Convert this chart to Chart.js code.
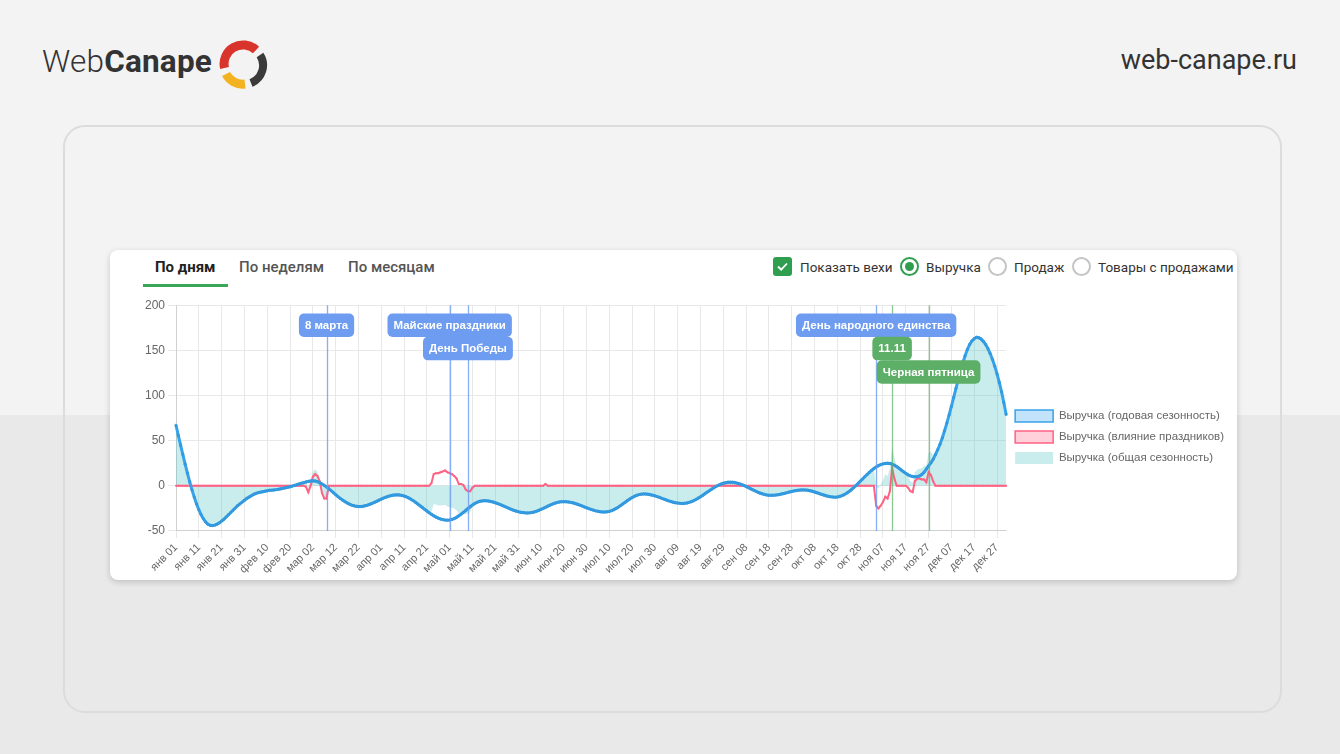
<!DOCTYPE html>
<html lang="ru">
<head>
<meta charset="utf-8">
<title>Сезонность выручки</title>
<script src="https://cdn.jsdelivr.net/npm/chart.js@4.4.1/dist/chart.umd.min.js"></script>
<style>
  html, body { margin: 0; padding: 0; }
  body {
    width: 1340px; height: 754px; overflow: hidden; position: relative;
    font-family: Roboto, "Noto Sans", Arial, sans-serif;
    background: linear-gradient(#f3f3f3 0, #f3f3f3 415px, #e9e9e9 415px, #e9e9e9 100%);
  }
  .brand { position: absolute; left: 42px; top: 42px; font-size: 31.5px; color: #333; line-height: 40px; letter-spacing: 0.2px; }
  .brand .light { font-weight: 300; }
  .brand .bold { font-weight: 700; }
  .logo-icon { position: absolute; left: 218px; top: 40px; }
  .site { position: absolute; right: 43px; top: 43px; font-size: 27px; color: #333; line-height: 34px; }
  .card { position: absolute; left: 63px; top: 125px; width: 1215px; height: 584px; border: 2px solid #dcdcdc; border-radius: 22px; }
  .panel { position: absolute; left: 110px; top: 250px; width: 1127px; height: 330px; background: #fff; border-radius: 8px; box-shadow: 0 2px 6px rgba(0,0,0,0.18); }
  .tab { position: absolute; top: 257px; font-size: 15px; line-height: 20px; color: #555; font-weight: 500; }
  .tab.active { color: #222; font-weight: 700; }
  .tab-line { position: absolute; left: 143px; top: 284px; width: 85px; height: 3px; background: #3aa65a; }
  .ctl { position: absolute; top: 258px; font-size: 13.5px; line-height: 18px; color: #333; }
  .check { position: absolute; left: 773px; top: 257px; width: 19px; height: 19px; border-radius: 3px; background: #2f9e4f; }
  .radio { position: absolute; top: 257px; width: 15px; height: 15px; border-radius: 50%; border: 2px solid #c4c4c4; background: #fff; }
  .radio.on { border-color: #2f9e4f; }
  .radio.on::after { content: ""; position: absolute; left: 3px; top: 3px; width: 9px; height: 9px; border-radius: 50%; background: #2f9e4f; }
  .chart-box { position: absolute; left: 142px; top: 295px; width: 1092px; height: 284px; }
</style>
</head>
<body>
<div class="brand"><span class="light">Web</span><span class="bold">Canape</span></div>
<svg class="logo-icon" width="50" height="50" viewBox="0 0 50 50">
  <path d="M6.5 28 A19 19 0 0 1 38 10" fill="none" stroke="#d9342b" stroke-width="9"/>
  <path d="M42 15 A19 19 0 0 1 33 43" fill="none" stroke="#3a3a3a" stroke-width="8"/>
  <path d="M27 44 A19 19 0 0 1 8 34" fill="none" stroke="#f3b21f" stroke-width="9"/>
</svg>
<div class="site">web-canape.ru</div>
<div class="card"></div>
<div class="panel"></div>

<div class="tab active" style="left:155px">По дням</div>
<div class="tab" style="left:239px">По неделям</div>
<div class="tab" style="left:348px">По месяцам</div>
<div class="tab-line"></div>

<div class="check">
  <svg width="19" height="19" viewBox="0 0 19 19"><path d="M5 9.5 L8.2 12.6 L14 6.5" fill="none" stroke="#fff" stroke-width="1.8"/></svg>
</div>
<div class="ctl" style="left:800px">Показать вехи</div>
<div class="radio on" style="left:900px"></div>
<div class="ctl" style="left:926px">Выручка</div>
<div class="radio" style="left:988px"></div>
<div class="ctl" style="left:1014px">Продаж</div>
<div class="radio" style="left:1072px"></div>
<div class="ctl" style="left:1098px">Товары с продажами</div>

<div class="chart-box"><canvas id="seasonChart"></canvas></div>

<script>
// day axis: non-leap year
const monthNames = ['янв', 'фев', 'мар', 'апр', 'май', 'июн', 'июл', 'авг', 'сен', 'окт', 'ноя', 'дек'];
const monthDays = [31, 28, 31, 30, 31, 30, 31, 31, 30, 31, 30, 31];

// Выручка (годовая сезонность), one row per month
const yearlyRevenue = [
  67, 56, 45, 34.5, 24, 14, 4.5, -4.5, -12.5, -20, -26.5, -32, -36.5, -40, -42.5, -43.8, -44, -43.5, -42.5, -41, -39, -37, -34.5, -32, -29.5, -27, -24.5, -22, -20, -18, -16,
  -14, -12.5, -11, -9.5, -8.5, -7.5, -7, -6.5, -6, -5.5, -5, -4.8, -4.5, -4.2, -3.8, -3.3, -2.8, -2.2, -1.6, -1, -0.3, 0.5, 1.3, 2.1, 2.9, 3.6, 4.3, 4.9,
  5.3, 5.5, 5.3, 4.6, 3.5, 2.1, 0.5, -1.3, -3.3, -5.4, -7.6, -9.8, -11.9, -13.9, -15.7, -17.4, -18.9, -20.2, -21.3, -22.1, -22.7, -23, -22.9, -22.6, -22, -21.3, -20.4, -19.4, -18.3, -17.1, -15.9,
  -14.7, -13.6, -12.6, -11.7, -11, -10.4, -10.1, -10, -10.1, -10.6, -11.3, -12.2, -13.4, -14.8, -16.4, -18.2, -20.1, -22, -24, -26, -27.9, -29.8, -31.6, -33.2, -34.6, -35.8, -36.7, -37.4, -37.9, -38,
  -37.8, -37.2, -36.2, -34.9, -33.2, -31.4, -29.4, -27.3, -25.1, -23.1, -21.3, -19.6, -18.3, -17.3, -16.7, -16.5, -16.6, -16.9, -17.3, -17.9, -18.7, -19.6, -20.5, -21.6, -22.7, -23.8, -24.9, -26, -27, -27.8, -28.6,
  -29.2, -29.6, -29.9, -30, -29.9, -29.5, -29, -28.2, -27.2, -26.1, -25, -23.8, -22.5, -21.4, -20.3, -19.3, -18.6, -18, -17.6, -17.5, -17.6, -17.8, -18.3, -18.8, -19.6, -20.4, -21.3, -22.2, -23.3, -24.3,
  -25.2, -26.1, -26.9, -27.7, -28.2, -28.7, -28.9, -29, -28.8, -28.3, -27.5, -26.4, -25, -23.5, -21.7, -19.9, -18.1, -16.3, -14.5, -13, -11.6, -10.5, -9.7, -9.2, -9, -9.1, -9.4, -9.8, -10.4, -11.1, -11.9,
  -12.8, -13.8, -14.7, -15.7, -16.6, -17.4, -18.1, -18.7, -19.1, -19.4, -19.5, -19.4, -19, -18.3, -17.5, -16.4, -15.1, -13.6, -12.1, -10.4, -8.6, -6.9, -5.1, -3.5, -1.9, -0.4, 0.9, 2, 2.9, 3.5, 3.9,
  4, 3.9, 3.6, 3, 2.3, 1.4, 0.4, -0.8, -2, -3.3, -4.5, -5.7, -6.9, -7.9, -8.8, -9.5, -10.1, -10.4, -10.5, -10.4, -10.2, -9.8, -9.4, -8.8, -8.2, -7.5, -6.8, -6.2, -5.6, -5.2,
  -4.8, -4.6, -4.5, -4.6, -4.9, -5.4, -6, -6.8, -7.6, -8.5, -9.4, -10.2, -11, -11.6, -12.1, -12.4, -12.5, -12.3, -11.8, -10.9, -9.8, -8.3, -6.5, -4.6, -2.4, 0, 2.4, 5, 7.5, 10.1, 12.5,
  14.9, 17.1, 19.1, 20.8, 22.3, 23.5, 24.3, 24.8, 25, 24.7, 24, 22.8, 21.3, 19.4, 17.5, 15.6, 13.8, 12.2, 11, 10.3, 10, 10.2, 11, 12.5, 15, 18.5, 22, 25.5, 29.5, 34.5,
  40, 46, 53, 61, 69.5, 78.5, 88, 98, 108, 117.5, 127, 136, 144, 151, 156.5, 160.5, 163, 164.5, 164, 162.5, 160, 156.5, 152, 146.5, 140, 132.5, 124, 114.5, 104, 92, 79
];

// Выручка (влияние праздников), one row per month
const holidayRevenue = [
  0, 0, 0, 0, 0, 0, 0, 0, 0, 0, 0, 0, 0, 0, 0, 0, 0, 0, 0, 0, 0, 0, 0, 0, 0, 0, 0, 0, 0, 0, 0,
  0, 0, 0, 0, 0, 0, 0, 0, 0, 0, 0, 0, 0, 0, 0, 0, 0, 0, 0, 0, 0, 0, 0, 0, 0, 0, -1, -7,
  0, 10, 13, 11, 5, -8, -14, -14, 0, 0, 0, 0, 0, 0, 0, 0, 0, 0, 0, 0, 0, 0, 0, 0, 0, 0, 0, 0, 0, 0, 0,
  0, 0, 0, 0, 0, 0, 0, 0, 0, 0, 0, 0, 0, 0, 0, 0, 0, 0, 0, 0, 0, 0, 3, 13, 14, 14, 15, 16, 17, 15,
  14, 13, 11, 8, 2, 2, 1, -4, -6, -6, -2, 0, 0, 0, 0, 0, 0, 0, 0, 0, 0, 0, 0, 0, 0, 0, 0, 0, 0, 0, 0,
  0, 0, 0, 0, 0, 0, 0, 0, 0, 0, 0, 2, 0, 0, 0, 0, 0, 0, 0, 0, 0, 0, 0, 0, 0, 0, 0, 0, 0, 0,
  0, 0, 0, 0, 0, 0, 0, 0, 0, 0, 0, 0, 0, 0, 0, 0, 0, 0, 0, 0, 0, 0, 0, 0, 0, 0, 0, 0, 0, 0, 0,
  0, 0, 0, 0, 0, 0, 0, 0, 0, 0, 0, 0, 0, 0, 0, 0, 0, 0, 0, 0, 0, 0, 0, 0, 0, 0, 0, 0, 0, 0, 0,
  0, 0, 0, 0, 0, 0, 0, 0, 0, 0, 0, 0, 0, 0, 0, 0, 0, 0, 0, 0, 0, 0, 0, 0, 0, 0, 0, 0, 0, 0,
  0, 0, 0, 0, 0, 0, 0, 0, 0, 0, 0, 0, 0, 0, 0, 0, 0, 0, 0, 0, 0, 0, 0, 0, 0, 0, 0, 0, 0, 0, 0,
  0, 0, 0, -22, -25, -22, -18, -12, -14, -6, 20, 8, 0, 0, 0, 0, 0, -2, -6, -7, 5, 8, 8, 7, 7, 4, 15, 12, 5, 0,
  0, 0, 0, 0, 0, 0, 0, 0, 0, 0, 0, 0, 0, 0, 0, 0, 0, 0, 0, 0, 0, 0, 0, 0, 0, 0, 0, 0, 0, 0, 0
];

// milestones ("вехи")
const milestoneNames = ['8 марта', 'Майские праздники', 'День Победы', 'День народного единства', '11.11', 'Черная пятница'];
const milestoneDays = [66, 120, 128, 307, 314, 330];
const milestoneRows = [0, 0, 1, 0, 1, 2];
const milestoneKinds = ['holiday', 'holiday', 'holiday', 'holiday', 'sale', 'sale'];

const yTicks = [-50, 0, 50, 100, 150, 200];

const dayLabels = [];
monthNames.forEach((m, mi) => {
  for (let d = 1; d <= monthDays[mi]; d++) dayLabels.push(m + ' ' + String(d).padStart(2, '0'));
});
// общая сезонность = годовая + праздники
const totalRevenue = yearlyRevenue.map((v, i) => v + holidayRevenue[i]);

const kindStyle = {
  holiday: { line: 'rgba(105,155,245,0.8)', box: '#6d9cf0' },
  sale: { line: 'rgba(90,180,100,0.7)', box: '#5dae67' }
};

const milestonePlugin = {
  id: 'milestones',
  afterDatasetsDraw(chart) {
    const { ctx, chartArea, scales: { x } } = chart;
    ctx.save();
    ctx.lineWidth = 1.3;
    milestoneDays.forEach((d, i) => {
      const px = Math.round(x.getPixelForValue(d)) + 0.5;
      ctx.strokeStyle = kindStyle[milestoneKinds[i]].line;
      ctx.beginPath();
      ctx.moveTo(px, chartArea.top);
      ctx.lineTo(px, chartArea.bottom);
      ctx.stroke();
    });
    ctx.font = 'bold 11.5px "Liberation Sans", Arial, sans-serif';
    ctx.textAlign = 'center';
    ctx.textBaseline = 'middle';
    milestoneDays.forEach((d, i) => {
      const px = x.getPixelForValue(d);
      const w = ctx.measureText(milestoneNames[i]).width + 12;
      const h = 23.5;
      const cy = chartArea.top + 20 + milestoneRows[i] * 23.4;
      ctx.fillStyle = kindStyle[milestoneKinds[i]].box;
      ctx.beginPath();
      ctx.roundRect(px - w / 2, cy - h / 2, w, h, 5);
      ctx.fill();
      ctx.fillStyle = '#fff';
      ctx.fillText(milestoneNames[i], px, cy + 0.5);
    });
    ctx.restore();
  }
};

// legend is centred on the whole canvas height, not only the plot
const legendCenter = {
  id: 'legendCenter',
  beforeDraw(chart) {
    const lg = chart.legend;
    if (!lg) return;
    lg.top = 0;
    lg.bottom = chart.height;
  }
};

Chart.defaults.font.family = '"Liberation Sans", Arial, sans-serif';
Chart.defaults.color = '#666';

const el = document.getElementById('seasonChart');
new Chart(el, {
  type: 'line',
  data: {
    labels: dayLabels,
    datasets: [{
      label: 'Выручка (годовая сезонность)',
      data: yearlyRevenue,
      borderColor: '#36a2eb',
      backgroundColor: 'rgba(54,162,235,0.3)',
      pointBackgroundColor: '#36a2eb',
      pointBorderColor: '#2f8fd0',
      pointRadius: 1.2,
      pointBorderWidth: 0.6,
      borderWidth: 3,
      fill: false,
      tension: 0
    }, {
      label: 'Выручка (влияние праздников)',
      data: holidayRevenue,
      borderColor: '#ff6384',
      backgroundColor: 'rgba(255,99,132,0.3)',
      pointBackgroundColor: '#ff6384',
      pointBorderColor: '#ff6384',
      pointRadius: 1,
      pointBorderWidth: 0,
      borderWidth: 2,
      fill: false,
      tension: 0
    }, {
      label: 'Выручка (общая сезонность)',
      data: totalRevenue,
      borderColor: 'rgba(75,192,192,0.3)',
      backgroundColor: 'rgba(75,192,192,0.3)',
      borderWidth: 0,
      pointRadius: 0,
      fill: 'origin',
      tension: 0
    }]
  },
  options: {
    responsive: true,
    maintainAspectRatio: false,
    animation: false,
    plugins: {
      legend: {
        position: 'right',
        labels: {
          boxWidth: 38,
          boxHeight: 12,
          padding: 9,
          font: { size: 11.5 },
          color: '#666',
          generateLabels(chart) {
            const items = Chart.defaults.plugins.legend.labels.generateLabels(chart);
            items.forEach((it, i) => { it.lineWidth = i < 2 ? 1.5 : 0; });
            return items;
          }
        }
      },
      tooltip: { enabled: false }
    },
    scales: {
      x: {
        grid: { color: '#e8e8e8', tickLength: 7 },
        ticks: {
          autoSkip: false,
          minRotation: 45,
          maxRotation: 45,
          font: { size: 11 },
          color: '#666',
          callback: (v, i) => (i % 10 === 0 ? dayLabels[i] : null)
        }
      },
      y: {
        min: yTicks[0],
        max: yTicks[yTicks.length - 1],
        grid: { color: '#e8e8e8' },
        afterBuildTicks: (s) => { s.ticks = yTicks.map(v => ({ value: v })); },
        ticks: { font: { size: 12 }, color: '#666' }
      }
    }
  },
  plugins: [milestonePlugin, legendCenter]
});
</script>
</body>
</html>
